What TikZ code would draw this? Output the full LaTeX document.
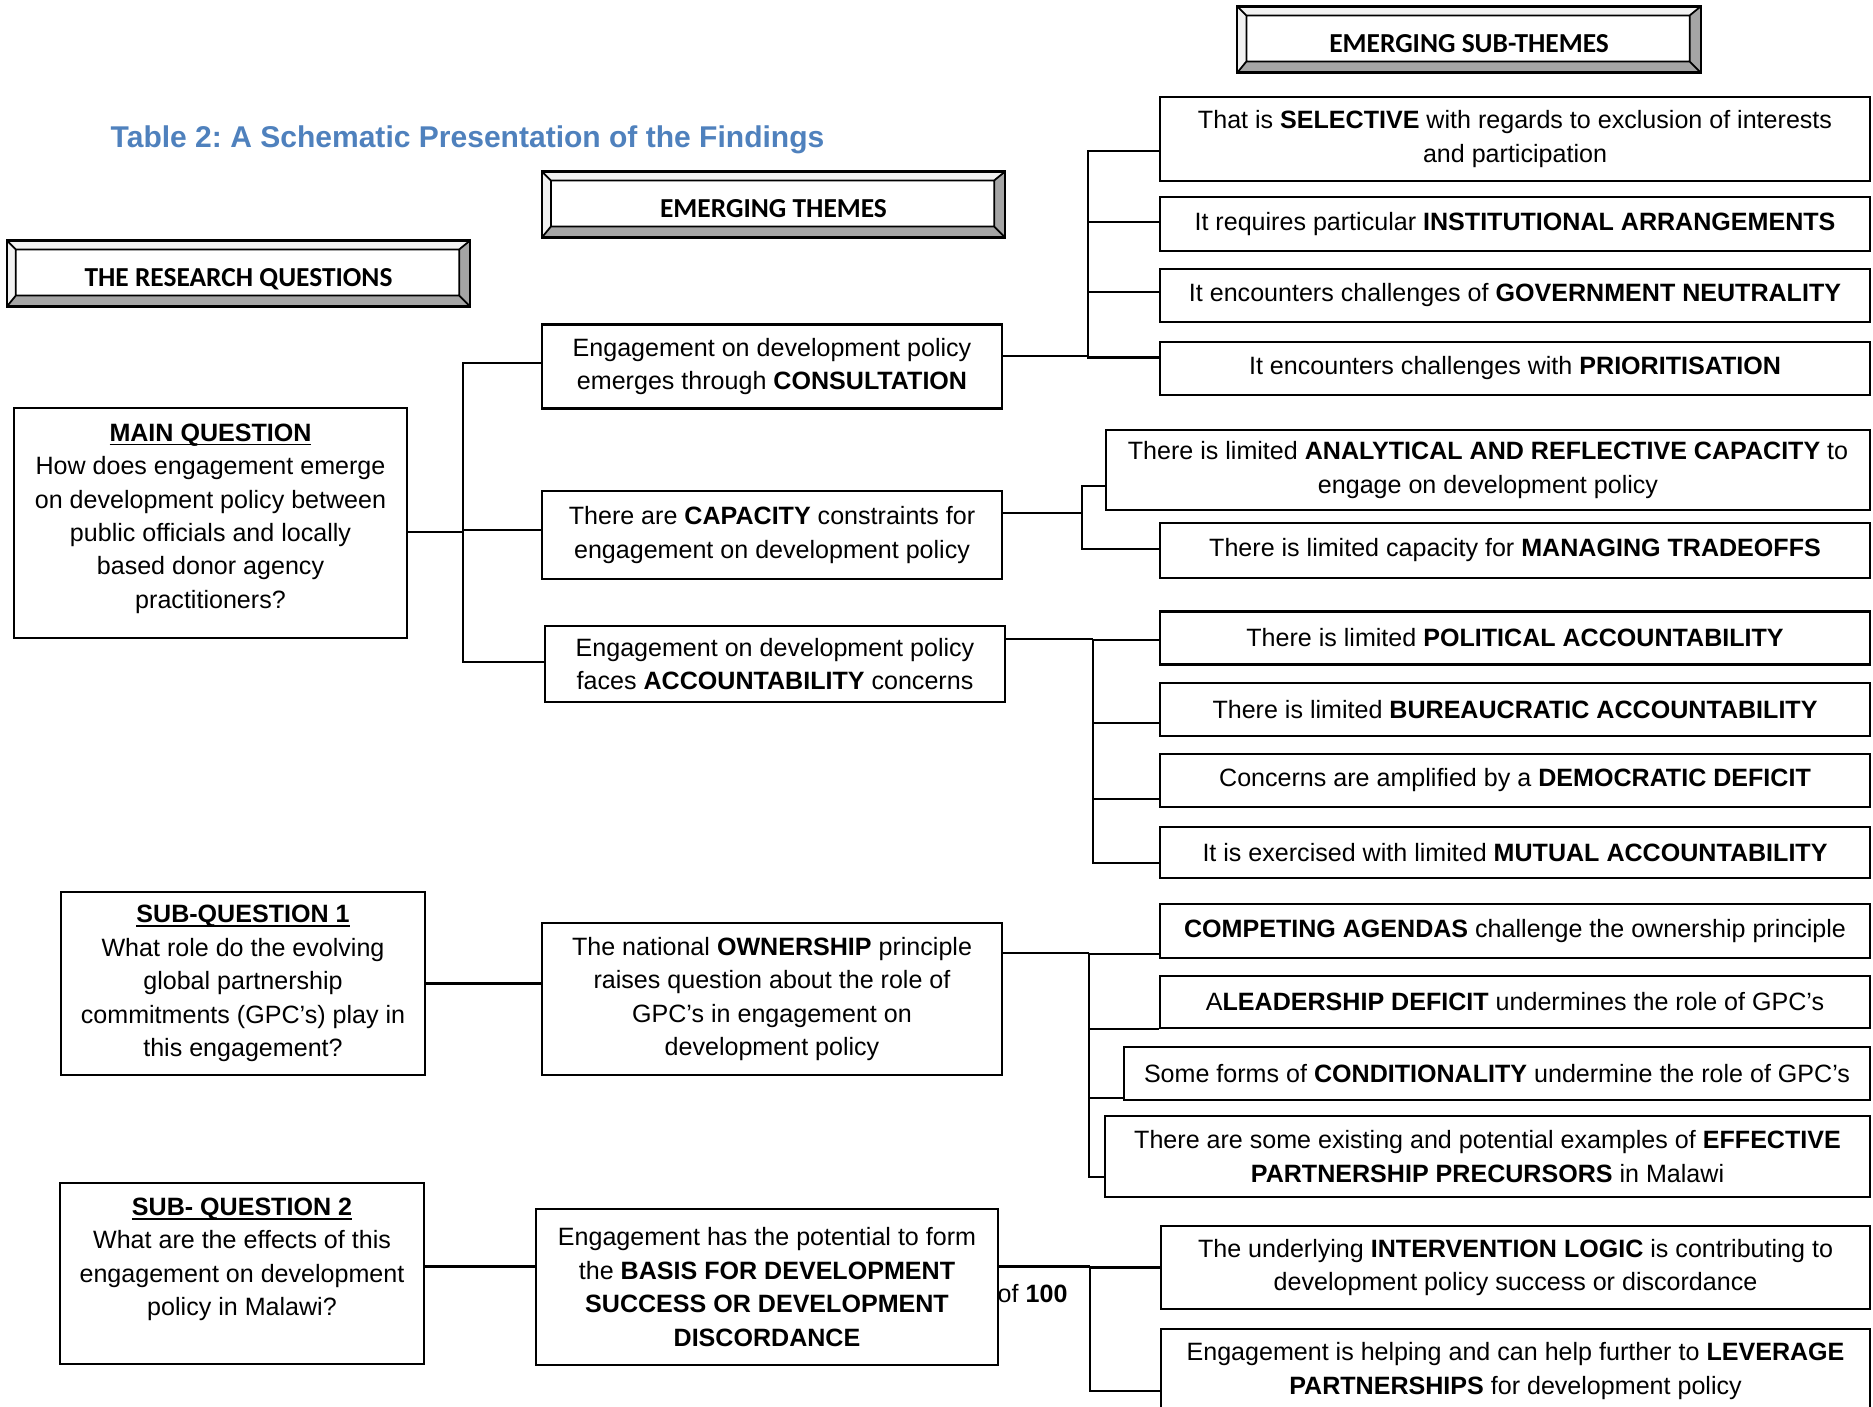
\documentclass[tikz,border=0pt]{standalone}
\usepackage{fontspec}
\setmainfont{Liberation Sans}
\newfontfamily\calibri{Carlito}
\usetikzlibrary{calc}
\frenchspacing
\definecolor{titleblue}{HTML}{4F81BD}
\definecolor{beveldark}{HTML}{A5A5A5}
\definecolor{bevellight}{HTML}{F2F2F2}
\newcommand{\bodyfont}{\fontsize{7.13}{9.5}\selectfont}
\newcommand{\hdrfont}{\calibri\bfseries\fontsize{7.8}{9}\selectfont}
\newcommand{\titlefont}{\bfseries\fontsize{8.54}{10}\selectfont}
\newlength{\qwd}
\newcommand{\qhead}[1]{\settowidth{\qwd}{\textbf{#1}}\textbf{#1}\hspace{-\qwd}\rule[-1.2pt]{\qwd}{0.5pt}}

\tikzset{
  box/.style={draw, line width=0.6pt, align=center, inner sep=0pt, font=\bodyfont},
  link/.style={line width=0.6pt},
  bevelbox/.style={draw, line width=0.6pt, inner sep=0pt, minimum width=4.63cm,
    minimum height=0.66cm, text height=7.2pt, text depth=0pt, font=\hdrfont,
    path picture={
      \path (path picture bounding box.south west) coordinate (bsw)
            (path picture bounding box.north east) coordinate (bne)
            (bsw -| bne) coordinate (bse) (bsw |- bne) coordinate (bnw)
            ([shift={(0.09cm,0.11cm)}]bsw) coordinate (isw)
            ([shift={(-0.11cm,-0.09cm)}]bne) coordinate (ine)
            (isw -| ine) coordinate (ise) (isw |- ine) coordinate (inw);
      \fill[bevellight] (bsw) -- (bnw) -- (bne) -- (ine) -- (inw) -- (isw) -- cycle;
      \fill[beveldark] (bsw) -- (bse) -- (bne) -- (ine) -- (ise) -- (isw) -- cycle;
      \draw[line width=0.5pt] (isw) rectangle (ine)
        (bsw) -- (isw) (bse) -- (ise) (bne) -- (ine) (bnw) -- (inw);
    }},
}

\begin{document}
\begin{tikzpicture}[x=0.01cm, y=-0.01cm]
\useasboundingbox (0,0) rectangle (1873,1406);
\clip (0,0) rectangle (1873,1406);

% headings
\node[anchor=base west, inner sep=0pt, font=\titlefont, text=titleblue] (title) at (110,147)
  {Table 2: A Schematic Presentation of the Findings};
\node[bevelbox] (hsub) at (1469,39.5) {EMERGING SUB-THEMES};
\node[bevelbox] (hthm) at (773.5,204.5) {EMERGING THEMES};
\node[bevelbox] (hrq) at (238.5,273.5) {THE RESEARCH QUESTIONS};

% research questions
\node[box, minimum width=3.92cm, minimum height=2.29cm] (mq) at (210.5,523)
  {\qhead{MAIN QUESTION}\\ How does engagement emerge\\ on development policy between\\
   public officials and locally\\ based donor agency\\ practitioners?\\[-5.5pt]\mbox{}};
\node[box, minimum width=3.64cm, minimum height=1.83cm] (sq1) at (243,983.5)
  {\qhead{SUB-QUESTION 1}\\ What role do the evolving\\ global partnership\\
   commitments (GPC’s) play in\\ this engagement?};
\node[box, minimum width=3.64cm, minimum height=1.81cm] (sq2) at (242,1273.5)
  {\qhead{SUB- QUESTION 2}\\ What are the effects of this\\ engagement on development\\
   policy in Malawi?\\[0pt]\mbox{}};

% emerging themes
\node[box, minimum width=4.6cm, minimum height=0.84cm] (t1) at (772,366.5)
  {Engagement on development policy\\ emerges through \textbf{CONSULTATION}};
\node[box, minimum width=4.6cm, minimum height=0.88cm] (t2) at (772,535)
  {There are \textbf{CAPACITY} constraints for\\ engagement on development policy};
\node[box, minimum width=4.6cm, minimum height=0.76cm] (t3) at (775,664)
  {Engagement on development policy\\ faces \textbf{ACCOUNTABILITY} concerns};
\node[box, minimum width=4.6cm, minimum height=1.52cm] (t4) at (772,999)
  {The national \textbf{OWNERSHIP} principle\\ raises question about the role of\\
   GPC’s in engagement on\\ development policy};
\node[box, minimum width=4.61cm, minimum height=1.56cm] (t5) at (767,1287)
  {Engagement has the potential to form\\ the \textbf{BASIS FOR DEVELOPMENT}\\
   \textbf{SUCCESS OR DEVELOPMENT}\\ \textbf{DISCORDANCE}};
\node[anchor=base west, inner sep=0pt, font=\bodyfont] (of100) at (997,1302) {of \textbf{100}};

% emerging sub-themes
\node[box, minimum width=7.1cm, minimum height=0.84cm] (s1) at (1515,139)
  {That is \textbf{SELECTIVE} with regards to exclusion of interests\\ and participation};
\node[box, minimum width=7.1cm, minimum height=0.54cm] (s2) at (1515,224)
  {It requires particular \textbf{INSTITUTIONAL ARRANGEMENTS}};
\node[box, minimum width=7.1cm, minimum height=0.53cm] (s3) at (1515,295.5)
  {It encounters challenges of \textbf{GOVERNMENT NEUTRALITY}};
\node[box, minimum width=7.1cm, minimum height=0.53cm] (s4) at (1515,368.5)
  {It encounters challenges with \textbf{PRIORITISATION}};
\node[box, minimum width=7.64cm, minimum height=0.8cm] (s5) at (1488,470)
  {There is limited \textbf{ANALYTICAL AND REFLECTIVE CAPACITY} to\\ engage on development policy};
\node[box, minimum width=7.1cm, minimum height=0.55cm] (s6) at (1515,550.5)
  {There is limited capacity for \textbf{MANAGING TRADEOFFS}};
\node[box, minimum width=7.1cm, minimum height=0.53cm] (s7) at (1515,638)
  {There is limited \textbf{POLITICAL ACCOUNTABILITY}};
\node[box, minimum width=7.1cm, minimum height=0.53cm] (s8) at (1515,709.5)
  {There is limited \textbf{BUREAUCRATIC ACCOUNTABILITY}};
\node[box, minimum width=7.1cm, minimum height=0.53cm] (s9) at (1515,780.5)
  {Concerns are amplified by a \textbf{DEMOCRATIC DEFICIT}};
\node[box, minimum width=7.1cm, minimum height=0.51cm] (s10) at (1515,852.5)
  {It is exercised with limited \textbf{MUTUAL ACCOUNTABILITY}};
\node[box, minimum width=7.1cm, minimum height=0.54cm] (s11) at (1515,931)
  {\textbf{COMPETING AGENDAS} challenge the ownership principle};
\node[box, minimum width=7.1cm, minimum height=0.52cm] (s12) at (1515,1002)
  {A\textbf{LEADERSHIP DEFICIT} undermines the role of GPC’s};
\node[box, minimum width=7.46cm, minimum height=0.53cm] (s13) at (1497,1073.5)
  {Some forms of \textbf{CONDITIONALITY} undermine the role of GPC’s};
\node[box, minimum width=7.65cm, minimum height=0.81cm] (s14) at (1487.5,1156.5)
  {There are some existing and potential examples of \textbf{EFFECTIVE}\\
   \textbf{PARTNERSHIP PRECURSORS} in Malawi};
\node[box, minimum width=7.09cm, minimum height=0.83cm] (s15) at (1515.5,1267.5)
  {The underlying \textbf{INTERVENTION LOGIC} is contributing to\\
   development policy success or discordance};
\node[box, minimum width=7.09cm, minimum height=0.84cm] (s16) at (1515.5,1371)
  {Engagement is helping and can help further to \textbf{LEVERAGE}\\
   \textbf{PARTNERSHIPS} for development policy};

% questions to themes
\draw[link] ($(mq.north east)!.54!(mq.south east)$) -- ++(55,0) coordinate (g0);
\foreach \t/\f in {t1/.46, t2/.44, t3/.47}
  \draw[link] (g0) |- ($(\t.north west)!\f!(\t.south west)$);
\draw[link] (sq1.east) -- (sq1.east -| t4.west);
\path ($(t5.north west)!.37!(t5.south west)$) coordinate (t5in);
\draw[link] (t5in -| sq2.east) -- (t5in);

% themes to sub-themes
\draw[link] ($(t1.north east)!.38!(t1.south east)$) -- ++(85,0) coordinate (g1);
\foreach \b/\f in {s1/.64, s2/.46, s3/.43, s4/.3}
  \draw[link] (g1) |- ($(\b.north west)!\f!(\b.south west)$);
\draw[link] ($(t2.north east)!.26!(t2.south east)$) -- ++(79,0) coordinate (g2);
\foreach \b/\f in {s5/.7, s6/.47}
  \draw[link] (g2) |- ($(\b.north west)!\f!(\b.south west)$);
\draw[link] ($(t3.north east)!.18!(t3.south east)$) -- ++(87,0) coordinate (g3);
\foreach \b/\f in {s7/.54, s8/.75, s9/.83, s10/.7}
  \draw[link] (g3) |- ($(\b.north west)!\f!(\b.south west)$);
\draw[link] ($(t4.north east)!.2!(t4.south east)$) -- ++(86,0) coordinate (g4);
\foreach \b/\f in {s11/.91, s12/1, s13/.94, s14/.75}
  \draw[link] (g4) |- ($(\b.north west)!\f!(\b.south west)$);
\draw[link] ($(t5.north east)!.37!(t5.south east)$) -- ++(91,0) coordinate (g5);
\foreach \b/\f in {s15/.5, s16/.73}
  \draw[link] (g5) |- ($(\b.north west)!\f!(\b.south west)$);
\end{tikzpicture}
\end{document}
